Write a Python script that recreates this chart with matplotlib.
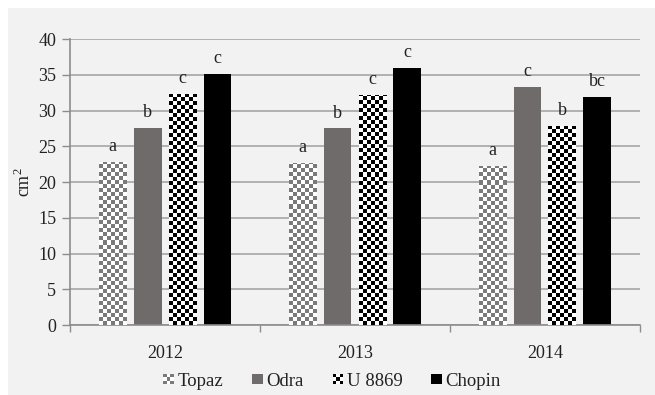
import numpy as np
import matplotlib
matplotlib.use("Agg")
import matplotlib.pyplot as plt
from matplotlib.patches import Rectangle
from matplotlib.legend_handler import HandlerBase

years = ["2012", "2013", "2014"]
varieties = ["Topaz", "Odra", "U 8869", "Chopin"]
topaz = [22.8, 22.7, 22.3]
odra = [27.6, 27.5, 33.3]
u8869 = [32.3, 32.2, 27.8]
chopin = [35.1, 36.0, 31.9]
letters_topaz = ["a", "a", "a"]
letters_odra = ["b", "b", "c"]
letters_u8869 = ["c", "c", "b"]
letters_chopin = ["c", "c", "bc"]
yticks = [0, 5, 10, 15, 20, 25, 30, 35, 40]

series = [topaz, odra, u8869, chopin]
letters = [letters_topaz, letters_odra, letters_u8869, letters_chopin]
# (fill colour, checker colour or None)
styles = [("white", "#7a7a7a"), ("#706b6b", None), ("white", "#000000"), ("#000000", None)]

plt.rcParams["font.family"] = ["Liberation Serif", "DejaVu Serif"]
plt.rcParams["mathtext.fontset"] = "custom"
plt.rcParams["mathtext.rm"] = "Liberation Serif"
fig = plt.figure(figsize=(6.55, 3.95), dpi=100, facecolor="white")
fig.patches.append(Rectangle((8 / 655, 0), 1, 1 - 8 / 395, transform=fig.transFigure,
                             facecolor="#f2f2f2", edgecolor="none", zorder=-10))
ax = fig.add_axes([0.107, 0.177, 0.870, 0.724])
ax.set_facecolor("#f2f2f2")

x = np.arange(len(years))
width = 0.147
step = 0.184
ncols = 7
cell_px = 4.0
px_per_unit_y = 0.724 * 395 / 40


def checker_fill(bar, color):
    x0, y0 = bar.get_x(), bar.get_y()
    w, h = bar.get_width(), bar.get_height()
    dy = cell_px / px_per_unit_y
    nrows = int(np.ceil(h / dy))
    board = (np.add.outer(np.arange(nrows), np.arange(ncols)) % 2).astype(float)
    img = np.zeros((nrows, ncols, 4))
    rgba = matplotlib.colors.to_rgba(color)
    img[board == 1] = rgba
    img[board == 0] = (1, 1, 1, 1)
    im = ax.imshow(img, extent=(x0, x0 + w, y0, y0 + nrows * dy), origin="lower",
                   aspect="auto", interpolation="nearest", zorder=3)
    im.set_clip_path(bar)


for i, (vals, labs, (fc, chk)) in enumerate(zip(series, letters, styles)):
    pos = x + (i - 1.5) * step
    bars = ax.bar(pos, vals, width, color=fc, edgecolor="none", zorder=2, label=varieties[i])
    for b, v, t in zip(bars, vals, labs):
        if chk is not None:
            checker_fill(b, chk)
        ax.annotate(t, (b.get_x() + b.get_width() / 2, v), xytext=(0, 5),
                    textcoords="offset points", ha="center", va="bottom",
                    fontsize=13, color="#222222")

ax.set_xlim(-0.5, 2.5)
ax.set_ylim(0, 40)
ax.set_yticks(yticks)
ax.set_xticks(x)
ax.set_xticklabels(years)
ax.set_xticks([-0.5, 0.5, 1.5, 2.5], minor=True)
ax.tick_params(axis="x", which="major", length=0, labelsize=13, pad=14, colors="#222222")
ax.tick_params(axis="x", which="minor", length=5, color="#8c8c8c", width=1)
ax.tick_params(axis="y", length=6, color="#8c8c8c", width=1, labelsize=13, pad=4,
               labelcolor="#222222")
ax.yaxis.grid(True, color="#a6a6a6", linewidth=1.2, zorder=1)
ax.set_axisbelow(True)
for s in ["top", "right"]:
    ax.spines[s].set_visible(False)
for s in ["left", "bottom"]:
    ax.spines[s].set_color("#8c8c8c")
    ax.spines[s].set_linewidth(1.2)
ax.set_ylabel("cm$^2$", fontsize=13, labelpad=3, color="#222222")


class CheckerHandler(HandlerBase):
    def __init__(self, fill, checker):
        super().__init__()
        self.fill = fill
        self.checker = checker

    def create_artists(self, legend, orig_handle, xdescent, ydescent, width, height,
                       fontsize, trans):
        size = height * 0.8
        x0 = width - size - xdescent
        y0 = (height - size) / 2 - ydescent
        arts = []
        if self.checker is None:
            arts.append(Rectangle((x0, y0), size, size, facecolor=self.fill,
                                  edgecolor="none", transform=trans))
        else:
            n = 3
            c = size / n
            for r in range(n):
                for k in range(n):
                    col = self.checker if (r + k) % 2 == 0 else "white"
                    arts.append(Rectangle((x0 + k * c, y0 + r * c), c, c, facecolor=col,
                                          edgecolor="none", transform=trans))
        return arts


handles = [Rectangle((0, 0), 1, 1) for _ in varieties]
handler_map = {h: CheckerHandler(fc, chk) for h, (fc, chk) in zip(handles, styles)}
fig.legend(handles, varieties, handler_map=handler_map, loc="center",
           bbox_to_anchor=(0.505, 0.035), ncol=4, frameon=False, fontsize=13.5,
           handlelength=0.7, handletextpad=0.2, columnspacing=1.4,
           labelcolor="#222222")

fig.savefig("out.png", dpi=100, facecolor=fig.get_facecolor())
